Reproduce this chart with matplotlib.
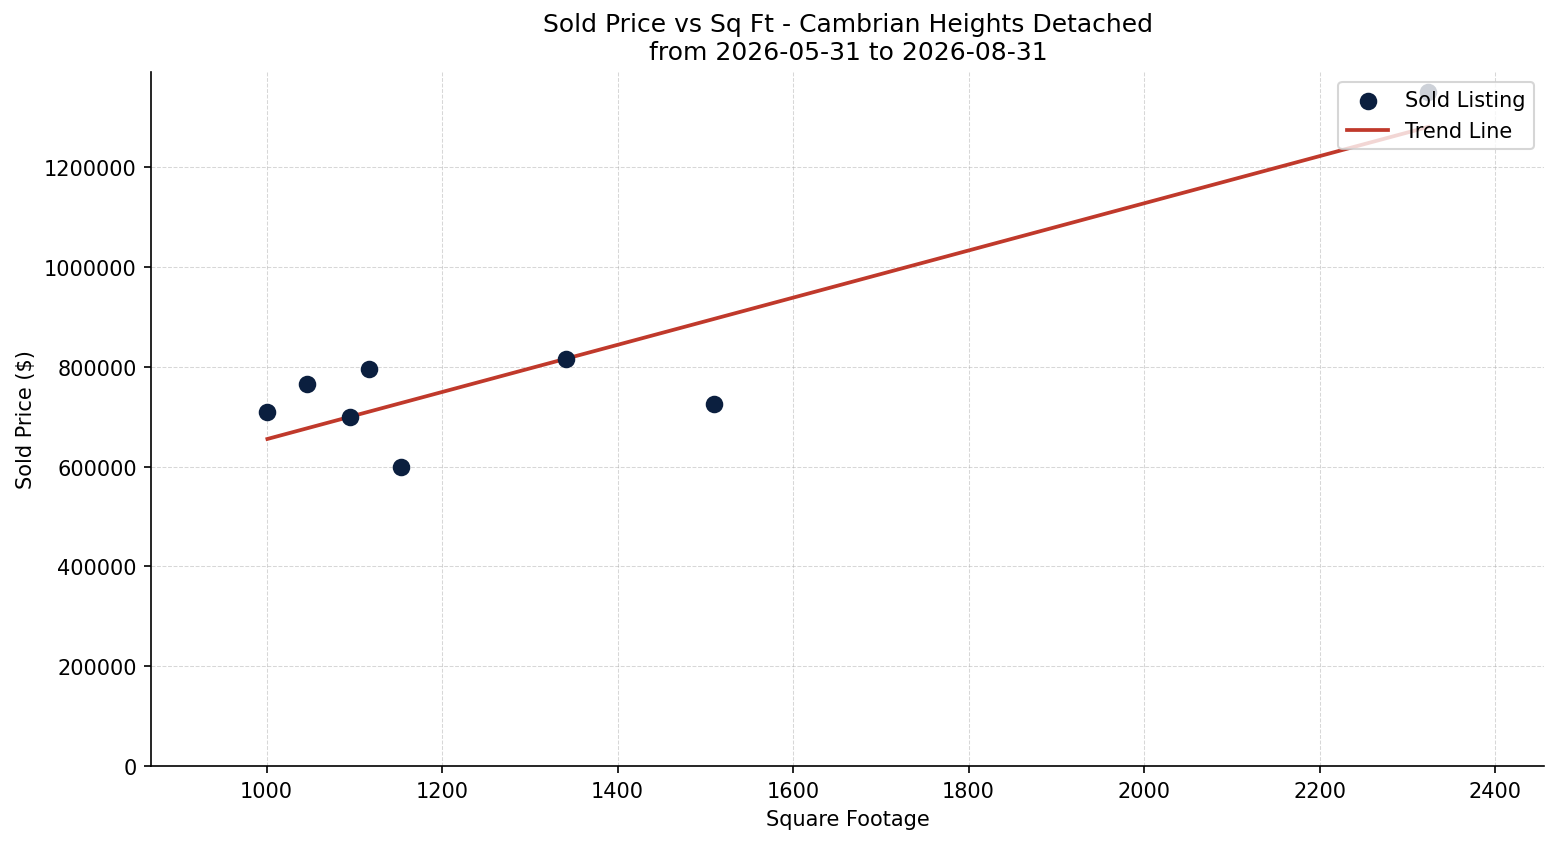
import numpy as np
import matplotlib
matplotlib.use("Agg")
import matplotlib.pyplot as plt

# sold listings
sqft = [1001, 1046, 1095, 1117, 1153, 1341, 1510, 2324]
sold_price = [710000, 765000, 700000, 795000, 600000, 815000, 725000, 1350000]

tittel = "Sold Price vs Sq Ft - Cambrian Heights Detached\nfrom 2026-05-31 to 2026-08-31"

fig, ax = plt.subplots(figsize=(10.4, 5.633), dpi=150)

ax.scatter(sqft, sold_price, s=55, color="#0b1f3f", label="Sold Listing", zorder=3)

# trend line (least squares)
k, m = np.polyfit(sqft, sold_price, 1)
x_linje = np.array([min(sqft), max(sqft)])
ax.plot(x_linje, k * x_linje + m, color="#c0392b", linewidth=1.8, label="Trend Line", zorder=2)

spenn = max(sqft) - min(sqft)
ax.set_xlim(min(sqft) - 0.1 * spenn, max(sqft) + 0.1 * spenn)
ax.set_ylim(0, max(sold_price) * 1.03)
ax.ticklabel_format(style="plain", axis="y")

ax.set_title(tittel, fontsize=12)
ax.set_xlabel("Square Footage")
ax.set_ylabel("Sold Price ($)")
ax.grid(True, linestyle="--", linewidth=0.5, alpha=0.5)
ax.spines["top"].set_visible(False)
ax.spines["right"].set_visible(False)
ax.legend(loc="upper right")

fig.subplots_adjust(left=0.097, right=0.990, top=0.914, bottom=0.092)
fig.savefig("out.png")
